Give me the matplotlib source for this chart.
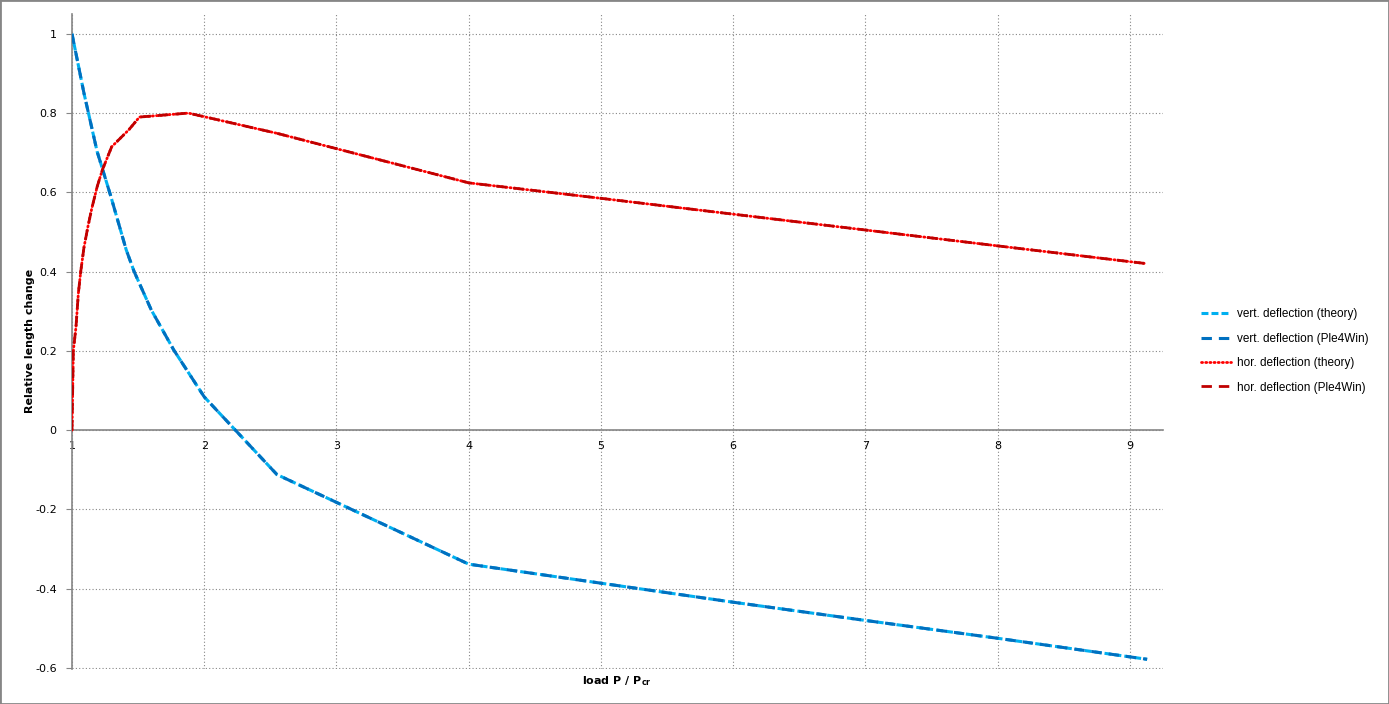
import matplotlib
matplotlib.use("Agg")
import matplotlib.pyplot as plt
from matplotlib.patches import Rectangle

# ==========================================
# DATA
# ==========================================

# vertical deflection, theory and Ple4Win lie on top of each other
vert_load = [1.0, 1.09, 1.19, 1.29, 1.41, 1.47, 1.60, 1.77, 2.0, 2.55,
             4.0, 5.0, 6.0, 7.0, 8.0, 9.13]
vert_theory = [1.0, 0.851, 0.703, 0.594, 0.455, 0.40, 0.303, 0.202, 0.084, -0.112,
               -0.338, -0.386, -0.434, -0.480, -0.525, -0.578]
vert_ple4win = [1.0, 0.851, 0.703, 0.594, 0.455, 0.40, 0.303, 0.202, 0.084, -0.112,
                -0.338, -0.386, -0.434, -0.480, -0.525, -0.578]

# horizontal deflection
hor_load = [1.0, 1.01, 1.03, 1.048, 1.066, 1.09, 1.12, 1.15, 1.19, 1.23, 1.30,
            1.43, 1.51, 1.88, 2.55, 4.0, 5.0, 6.0, 7.0, 8.0, 9.13]
hor_theory = [0.0, 0.20, 0.26, 0.345, 0.40, 0.46, 0.513, 0.56, 0.614, 0.657, 0.715,
              0.758, 0.79, 0.80, 0.749, 0.624, 0.585, 0.545, 0.505, 0.465, 0.42]
hor_ple4win = [0.0, 0.20, 0.26, 0.345, 0.40, 0.46, 0.513, 0.56, 0.614, 0.657, 0.715,
               0.758, 0.79, 0.80, 0.749, 0.624, 0.585, 0.545, 0.505, 0.465, 0.42]

x_ticks = [1, 2, 3, 4, 5, 6, 7, 8, 9]
y_ticks = [-0.6, -0.4, -0.2, 0, 0.2, 0.4, 0.6, 0.8, 1]

# ==========================================
# PLOT
# ==========================================

plt.rcParams['font.family'] = 'DejaVu Sans'
plt.rcParams['axes.unicode_minus'] = False
plt.rcParams['lines.scale_dashes'] = False

W, H = 1389, 704
fig = plt.figure(figsize=(W / 100, H / 100), dpi=100)
ax = fig.add_axes([72 / W, 1 - 669 / H, (1163 - 72) / W, (669 - 14) / H])

ax.plot(vert_load, vert_theory, color='#00B0F0', linewidth=2.2,
        dashes=(5, 2.2), label='vert. deflection (theory)', zorder=3)
ax.plot(vert_load, vert_ple4win, color='#0070C0', linewidth=2.2,
        dashes=(7.5, 5), label='vert. deflection (Ple4Win)', zorder=4)
ax.plot(hor_load, hor_theory, color='#FF0000', linewidth=2.0,
        dashes=(0.8, 2.2), dash_capstyle='round', label='hor. deflection (theory)', zorder=3)
ax.plot(hor_load, hor_ple4win, color='#C00000', linewidth=2.0,
        dashes=(7.5, 5), label='hor. deflection (Ple4Win)', zorder=4)

ax.set_xlim(1, 9.25)
ax.set_ylim(-0.6025, 1.05)
ax.set_xticks(x_ticks)
ax.set_yticks(y_ticks)
ax.set_xticklabels([str(t) for t in x_ticks])
ax.set_yticklabels(['%g' % t for t in y_ticks])

# axis crossing at y = 0, Excel style
for side in ['top', 'right']:
    ax.spines[side].set_visible(False)
ax.spines['bottom'].set_position(('data', 0))
ax.spines['bottom'].set_color('#868686')
ax.spines['left'].set_color('#868686')
ax.spines['bottom'].set_linewidth(1.2)
ax.spines['left'].set_linewidth(1.2)

ax.tick_params(axis='y', direction='out', length=4, color='#868686',
               labelsize=8, pad=7)
ax.tick_params(axis='x', direction='out', length=0, labelsize=8, pad=8)

ax.grid(True, color='#868686', linestyle=(0, (0.8, 1.6)), linewidth=0.8)
ax.set_axisbelow(True)

# axis titles
fig.text(30 / W, 1 - 341 / H, 'Relative length change', rotation=90,
         ha='center', va='center', fontsize=8, fontweight='bold')
fig.text(617 / W, 1 - 681 / H, r'load P / P$_\mathregular{cr}$',
         ha='center', va='center', fontsize=8, fontweight='bold')

ax.legend(loc='center left', bbox_to_anchor=(1190 / W, 1 - 351 / H),
          bbox_transform=fig.transFigure, frameon=False,
          prop={'family': 'Liberation Sans', 'size': 8.5},
          handlelength=2.6, labelspacing=1.05, handletextpad=0.5)

# outer chart border
fig.add_artist(Rectangle((0, 0), 1, 1, transform=fig.transFigure, fill=False,
                         edgecolor='#868686', linewidth=2))

fig.savefig('out.png', dpi=100)
